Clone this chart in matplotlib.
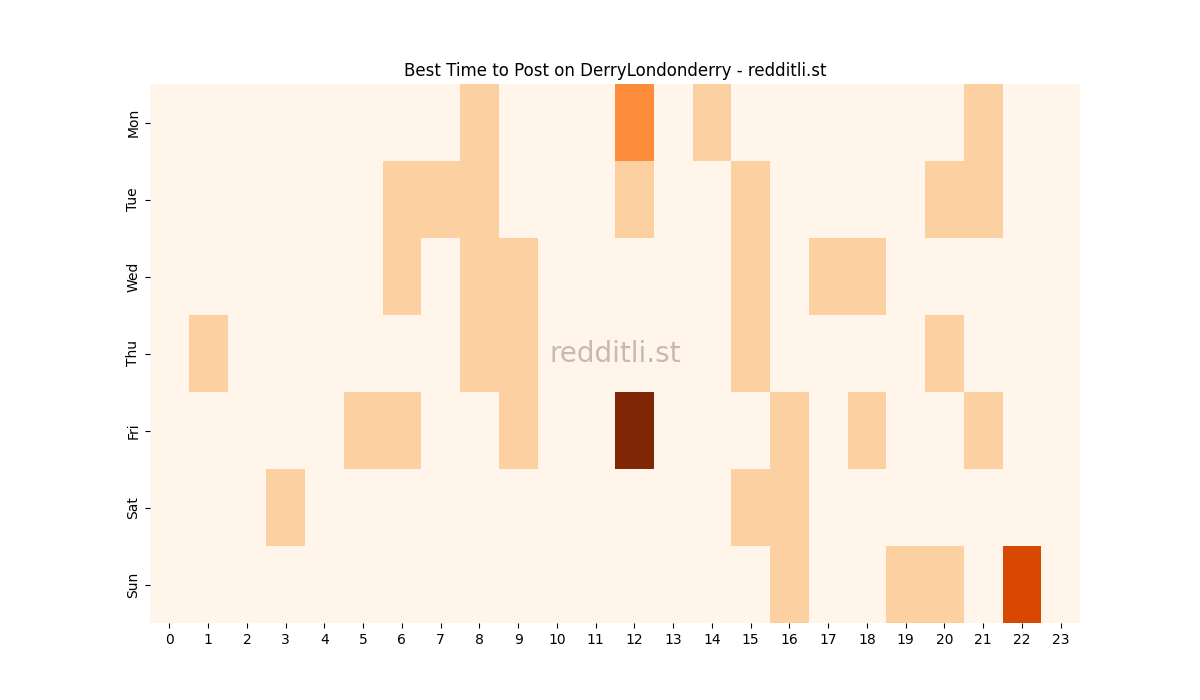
import matplotlib
matplotlib.use("Agg")
import matplotlib.pyplot as plt
import seaborn as sns
import numpy as np

days = ["Mon", "Tue", "Wed", "Thu", "Fri", "Sat", "Sun"]
hours = list(range(24))
mon = {8: 1, 12: 2, 14: 1, 21: 1}
tue = {6: 1, 7: 1, 8: 1, 12: 1, 15: 1, 20: 1, 21: 1}
wed = {6: 1, 8: 1, 9: 1, 15: 1, 17: 1, 18: 1}
thu = {1: 1, 8: 1, 9: 1, 15: 1, 20: 1}
fri = {5: 1, 6: 1, 9: 1, 12: 4, 16: 1, 18: 1, 21: 1}
sat = {3: 1, 15: 1, 16: 1}
sun = {16: 1, 19: 1, 20: 1, 22: 3}
rows = [mon, tue, wed, thu, fri, sat, sun]

data = np.zeros((7, 24))
for i, r in enumerate(rows):
    for h, v in r.items():
        data[i, h] = v

fig, ax = plt.subplots(figsize=(12, 7), dpi=100)
sns.heatmap(data, cmap="Oranges", cbar=False, ax=ax, xticklabels=hours, yticklabels=days)
ax.set_title("Best Time to Post on DerryLondonderry - redditli.st")
ax.text(12, 3.5, "redditli.st", fontsize=20, color="#b0a0a0", alpha=0.7, ha="center", va="center")
plt.setp(ax.get_xticklabels(), rotation=0)
fig.savefig("out.png")
